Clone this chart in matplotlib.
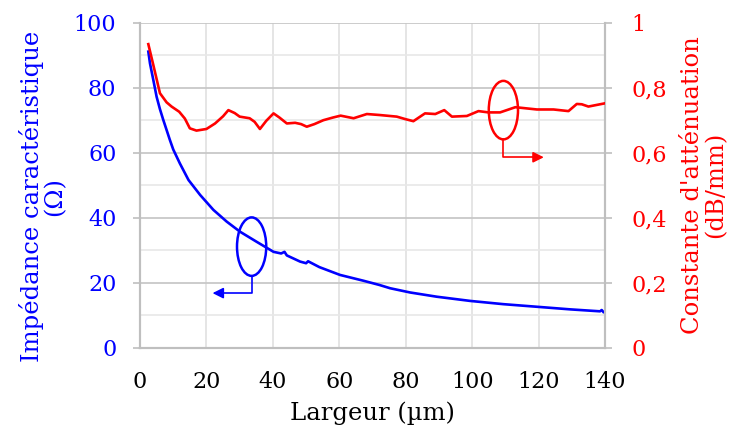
import matplotlib.pyplot as plt
from matplotlib.patches import Ellipse
from matplotlib.ticker import MultipleLocator, FuncFormatter

plt.rcParams['font.family'] = ['DejaVu Serif']

# Impedance (left axis)
w_z = [2.5, 3.0, 4, 5, 6, 7, 8, 9, 10, 12, 14.6, 18.1, 22.1, 26.1, 30.1, 35.1, 40.2, 42.5,
       43.5, 44.2, 48.2, 50, 50.6, 54, 60.2, 67.3, 72.1, 75.3, 81.3, 89.3, 99.4, 109.4, 119.5,
       129.5, 138.5, 139, 139.5]
z = [91.1, 87.5, 82.4, 77.2, 73.4, 70.1, 67, 63.9, 61, 56.7, 51.6, 47, 42.4, 38.8, 35.7,
     32.6, 29.5, 29.0, 29.5, 28.4, 26.5, 26.0, 26.6, 24.8, 22.4, 20.6, 19.3, 18.3, 17, 15.7,
     14.4, 13.4, 12.6, 11.8, 11.2, 11.6, 11]

# Attenuation (right axis)
w_a = [2.5, 4, 6, 8, 9.5, 11.8, 13.5, 15, 17, 20, 22.6, 25, 26.6, 28.5, 30, 33, 34.5, 36.1,
       38, 40.2, 42, 44.2, 46.7, 48.5, 50.2, 52.5, 55.2, 58, 60.4, 64.3, 68.3, 72.1, 77.3,
       80, 82.3, 85.8, 88.9, 91.6, 93.9, 98.4, 101.9, 104.9, 108.4, 113, 119.5, 124.5,
       129, 131.5, 133, 135, 138, 140]
att = [0.934, 0.87, 0.783, 0.755, 0.742, 0.726, 0.705, 0.675, 0.668, 0.673, 0.69, 0.712,
       0.731, 0.722, 0.711, 0.706, 0.695, 0.673, 0.698, 0.721, 0.708, 0.69, 0.692, 0.688,
       0.68, 0.688, 0.70, 0.708, 0.714, 0.706, 0.719, 0.716, 0.711, 0.703, 0.697, 0.721,
       0.719, 0.731, 0.711, 0.713, 0.728, 0.724, 0.724, 0.74, 0.733, 0.733, 0.728, 0.75,
       0.749, 0.742, 0.748, 0.752]

fig = plt.figure(figsize=(7.42, 4.34), dpi=100)
ax = fig.add_axes([0.1887, 0.1988, 0.6267, 0.7489])
ax2 = ax.twinx()

ax.plot(w_z, z, color='#0000FF', lw=1.9, zorder=3)
ax2.plot(w_a, att, color='#FF0000', lw=1.9, zorder=3)

ax.set_xlim(0, 140)
ax.set_ylim(0, 100)
ax2.set_ylim(0, 1)
ax.xaxis.set_major_locator(MultipleLocator(20))
ax.yaxis.set_major_locator(MultipleLocator(20))
ax.yaxis.set_minor_locator(MultipleLocator(10))
ax2.yaxis.set_major_locator(MultipleLocator(0.2))
ax2.yaxis.set_major_formatter(FuncFormatter(lambda v, p: ('%g' % round(v, 1)).replace('.', ',')))

ax.grid(True, axis='x', color='#E0E0E0', lw=1.2)
ax.grid(True, axis='y', which='major', color='#C8C8C8', lw=1.3)
ax.grid(True, axis='y', which='minor', color='#E8E8E8', lw=1.2)
ax.set_axisbelow(True)

for a in (ax, ax2):
    a.spines['top'].set_visible(False)
    for s in ('left', 'right', 'bottom'):
        a.spines[s].set_color('#BFBFBF')
        a.spines[s].set_linewidth(1.5)

ax.tick_params(axis='x', length=0, pad=17, labelsize=16, colors='black')
ax.tick_params(axis='y', which='major', length=5, color='#BFBFBF', width=1.2,
               labelsize=16, labelcolor='#0000FF', pad=12)
ax.tick_params(axis='y', which='minor', length=0)
ax2.tick_params(axis='y', length=5, color='#BFBFBF', width=1.2,
                labelsize=16, labelcolor='#FF0000', pad=14)

ax.set_xlabel('Largeur (µm)', fontsize=17.5, labelpad=6)
ax.set_ylabel('Impédance caractéristique\n(Ω)', fontsize=17.5, color='#0000FF',
              linespacing=1.0)
ax.yaxis.set_label_coords(-0.158, 0.465)
ax2.set_ylabel("Constante d'atténuation\n(dB/mm)", fontsize=17.5, color='#FF0000',
               labelpad=10, linespacing=1.0)

# annotation markers
ax.add_patch(Ellipse((33.6, 31.1), 8.8, 18, fill=False, ec='#0000FF', lw=1.8, zorder=4))
ax.plot([33.6, 33.6, 24], [22.1, 16.8, 16.8], color='#0000FF', lw=1.2, zorder=4)
ax.annotate('', xy=(21, 16.8), xytext=(24.5, 16.8),
            arrowprops=dict(arrowstyle='-|>', color='#0000FF', lw=1.2, mutation_scale=16))

ax2.add_patch(Ellipse((109.4, 0.731), 8.8, 0.18, fill=False, ec='#FF0000', lw=1.8, zorder=4))
ax2.plot([109.4, 109.4, 119], [0.641, 0.586, 0.586], color='#FF0000', lw=1.2, zorder=4)
ax2.annotate('', xy=(122.4, 0.586), xytext=(118.5, 0.586),
             arrowprops=dict(arrowstyle='-|>', color='#FF0000', lw=1.2, mutation_scale=16))

fig.savefig('out.png', dpi=100)
